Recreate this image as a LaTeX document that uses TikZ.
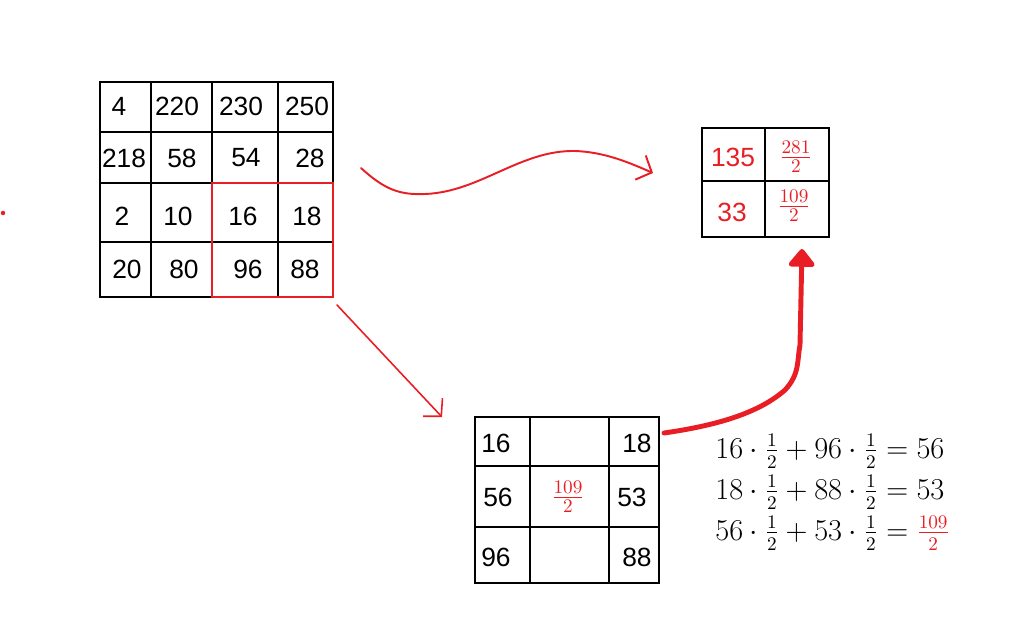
\documentclass[tikz,border=0pt]{standalone}
\usepackage{fontspec}
\newfontfamily\cellfont{Liberation Sans}
\usepackage{amsmath}
\usetikzlibrary{arrows.meta}
\definecolor{penred}{RGB}{232,30,36}
\tikzset{>=latex, line width=1.0pt}
\tikzset{
  gridline/.style={black, line width=1.4pt},
  window/.style={penred, line width=1.3pt},
  cellnum/.style={inner sep=0pt, font=\cellfont\fontsize{15}{18}\selectfont},
  redfrac/.style={inner sep=0pt, text=penred, font=\fontsize{15}{18}\selectfont},
  eqline/.style={anchor=base west, inner sep=0pt, font=\fontsize{16}{19}\selectfont},
  thinpen/.style={penred, line width=1.1pt, line cap=round,
    -{Straight Barb[length=7pt,width=15pt]}},
  thickpen/.style={penred, line width=2.8pt, line cap=round, line join=round,
    -{Triangle[length=11pt,width=17pt,round]}}
}

\begin{document}
\begin{tikzpicture}[x=0.02cm,y=-0.02cm]
  \useasboundingbox (0,0) rectangle (1029,622);

  % stray red mark
  \node[circle,fill=penred,inner sep=0.9pt] (speck) at (3,213) {};

  % input block 4x4
  \draw[gridline] (100,82) rectangle (333,297);
  \draw[gridline] (151,82) -- (151,297);
  \draw[gridline] (212,82) -- (212,297);
  \draw[gridline] (278,82) -- (278,297);
  \draw[gridline] (100,132) -- (333,132);
  \draw[gridline] (100,183) -- (333,183);
  \draw[gridline] (100,242) -- (333,242);
  \node[cellnum] (in11) at (119,106) {4};
  \node[cellnum] (in12) at (177,106) {220};
  \node[cellnum] (in13) at (241,106) {230};
  \node[cellnum] (in14) at (307,106) {250};
  \node[cellnum] (in21) at (124,158) {218};
  \node[cellnum] (in22) at (182,158) {58};
  \node[cellnum] (in23) at (246,158) {54};
  \node[cellnum] (in24) at (310,158) {28};
  \node[cellnum] (in31) at (122,216) {2};
  \node[cellnum] (in32) at (178,216) {10};
  \node[cellnum] (in33) at (243,216) {16};
  \node[cellnum] (in34) at (307,216) {18};
  \node[cellnum] (in41) at (127,269) {20};
  \node[cellnum] (in42) at (184,269) {80};
  \node[cellnum] (in43) at (248,269) {96};
  \node[cellnum] (in44) at (305,269) {88};

  % selected window
  \draw[window] (212,183) rectangle (333,297);

  % output block 2x2
  \draw[gridline] (702,128) rectangle (829,237);
  \draw[gridline] (765,128) -- (765,237);
  \draw[gridline] (702,181) -- (829,181);
  \node[cellnum,text=penred] (out11) at (733,157) {135};
  \node[redfrac] (out12) at (796,157) {$\frac{281}{2}$};
  \node[cellnum,text=penred] (out21) at (732,212) {33};
  \node[redfrac] (out22) at (794,206) {$\frac{109}{2}$};

  % interpolation block 3x3
  \draw[gridline] (475,417) rectangle (659,583);
  \draw[gridline] (530,417) -- (530,583);
  \draw[gridline] (609,417) -- (609,583);
  \draw[gridline] (475,466) -- (659,466);
  \draw[gridline] (475,527) -- (659,527);
  \node[cellnum] (ip11) at (496,443) {16};
  \node[cellnum] (ip13) at (637,443) {18};
  \node[cellnum] (ip21) at (498,497) {56};
  \node[redfrac] (ip22) at (568,497) {$\frac{109}{2}$};
  \node[cellnum] (ip23) at (632,497) {53};
  \node[cellnum] (ip31) at (496,557) {96};
  \node[cellnum] (ip33) at (637,557) {88};

  % worked sums
  \node[eqline] (eq1) at (715,458) {$16\cdot\frac{1}{2}+96\cdot\frac{1}{2}=56$};
  \node[eqline] (eq2) at (715,499) {$18\cdot\frac{1}{2}+88\cdot\frac{1}{2}=53$};
  \node[eqline] (eq3) at (715,540)
    {$56\cdot\frac{1}{2}+53\cdot\frac{1}{2}={\color{penred}\frac{109}{2}}$};

  % arrows
  \coordinate (wavestart) at (361,168);
  \coordinate (waveend) at (653,173);
  \coordinate (diagstart) at (337,305);
  \coordinate (diagend) at (442,417);
  \coordinate (liftstart) at (664,433);
  \coordinate (liftend) at (802,249);
  \draw[thinpen] (wavestart) .. controls (385,190) and (400,195) .. (425,194)
    .. controls (480,192) and (520,150) .. (575,151)
    .. controls (605,152) and (630,163) .. (waveend);
  \draw[thinpen,line width=0.9pt] (diagstart) -- (diagend);
  \draw[thickpen] (liftstart) .. controls (720,425) and (760,412) .. (785,390)
    .. controls (800,374) and (797,360) .. (800,345) -- (liftend);
\end{tikzpicture}
\end{document}
